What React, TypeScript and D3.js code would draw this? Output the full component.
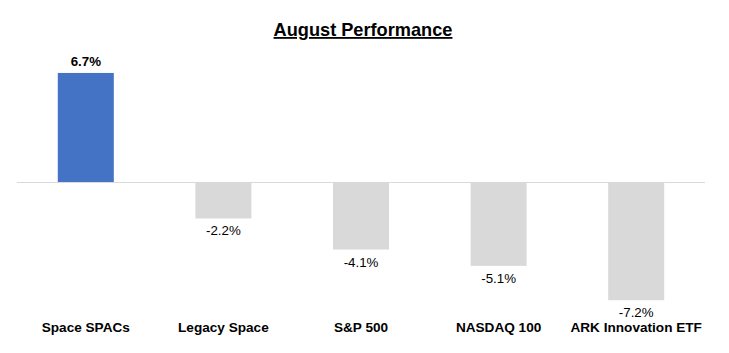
import * as d3 from "d3";

const categories = ["Space SPACs", "Legacy Space", "S&P 500", "NASDAQ 100", "ARK Innovation ETF"];
const values = [6.7, -2.2, -4.1, -5.1, -7.2];
const barColors = ["#4472C4", "#D9D9D9", "#D9D9D9", "#D9D9D9", "#D9D9D9"];

const width = 729;
const height = 353;
const plot = { left: 17, right: 705, zeroY: 182.5, pxPerUnit: 16.35 };
const font = "'Liberation Sans', Arial, sans-serif";

export default function App() {
  const xScale = d3
    .scaleBand<string>()
    .domain(categories)
    .range([plot.left, plot.right])
    .paddingInner(0.593)
    .paddingOuter(0.2965);
  const yScale = d3
    .scaleLinear()
    .domain([0, 1])
    .range([plot.zeroY, plot.zeroY - plot.pxPerUnit]);

  return (
    <svg width={width} height={height} style={{ position: "absolute", left: 0, top: 0 }} fontFamily={font}>
      <rect width={width} height={height} fill="#fff" />
      <text x={363} y={36} textAnchor="middle" fontSize={18.2} fontWeight="bold" textDecoration="underline" fill="#000">
        August Performance
      </text>

      {categories.map((cat, i) => {
        const v = values[i];
        const x = xScale(cat) ?? 0;
        const y0 = yScale(0);
        const y1 = yScale(v);
        const cx = x + xScale.bandwidth() / 2;
        return (
          <g key={cat}>
            <rect x={x} y={Math.min(y0, y1)} width={xScale.bandwidth()} height={Math.abs(y1 - y0)} fill={barColors[i]} />
            {v >= 0 ? (
              <text x={cx} y={y1 - 7} textAnchor="middle" fontSize={13.3} fontWeight="bold" fill="#000">
                {`${v.toFixed(1)}%`}
              </text>
            ) : (
              <text x={cx} y={y1 + 17} textAnchor="middle" fontSize={13.3} fill="#000">
                {`${v.toFixed(1)}%`}
              </text>
            )}
            <text x={cx} y={332} textAnchor="middle" fontSize={13.6} fontWeight="bold" fill="#000">
              {cat}
            </text>
          </g>
        );
      })}

      <line x1={plot.left} x2={plot.right} y1={yScale(0)} y2={yScale(0)} stroke="#D9D9D9" strokeWidth={1} />
    </svg>
  );
}
